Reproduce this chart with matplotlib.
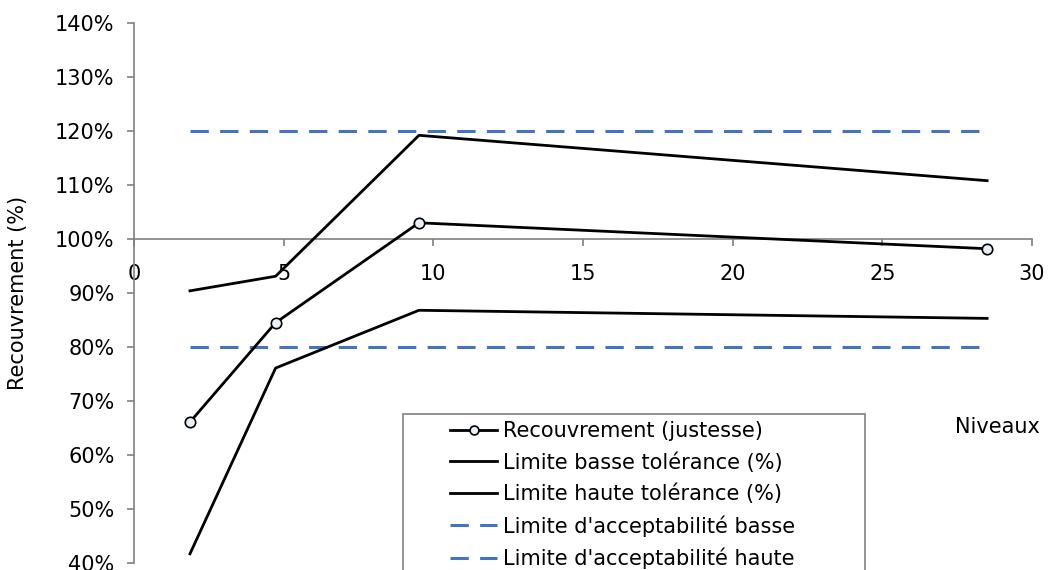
import matplotlib
matplotlib.use("Agg")
import matplotlib.pyplot as plt
from matplotlib.ticker import FuncFormatter, MultipleLocator
from matplotlib.patches import Rectangle

# Data
niveaux = [1.87, 4.73, 9.52, 28.5]
recouvrement = [0.661, 0.845, 1.030, 0.982]
limite_basse_tol = [0.417, 0.761, 0.868, 0.853]
limite_haute_tol = [0.904, 0.931, 1.192, 1.108]
accept_basse = [0.80, 0.80, 0.80, 0.80]
accept_haute = [1.20, 1.20, 1.20, 1.20]

labels = ["Recouvrement (justesse)",
          "Limite basse tolérance (%)",
          "Limite haute tolérance (%)",
          "Limite d'acceptabilité basse",
          "Limite d'acceptabilité haute"]

FS = 15
W, H = 1048, 570
plt.rcParams['font.family'] = ['DejaVu Sans']
fig = plt.figure(figsize=(W/100, H/100), dpi=100)
ax = fig.add_axes([134/W, 7/H, 898/W, 540/H])

blue = '#4472C4'
ax.plot(niveaux, recouvrement, color='black', lw=2.0, marker='o', ms=7.5,
        mfc='#E9EFF7', mec='black', mew=1.2, label=labels[0], zorder=5)
ax.plot(niveaux, limite_basse_tol, color='black', lw=2.0, label=labels[1], zorder=4)
ax.plot(niveaux, limite_haute_tol, color='black', lw=2.0, label=labels[2], zorder=4)
ax.plot(niveaux, accept_basse, color=blue, lw=2.2, dashes=(6, 3.7), label=labels[3], zorder=3)
ax.plot(niveaux, accept_haute, color=blue, lw=2.2, dashes=(6, 3.7), label=labels[4], zorder=3)

ax.set_xlim(0, 30)
ax.set_ylim(0.4, 1.4)
ax.xaxis.set_major_locator(MultipleLocator(5))
ax.yaxis.set_major_locator(MultipleLocator(0.1))
ax.yaxis.set_major_formatter(FuncFormatter(lambda v, p: f"{round(v*100):d}%"))

for s in ['top', 'right']:
    ax.spines[s].set_visible(False)
ax.spines['bottom'].set_position(('data', 1.0))
for s in ['left', 'bottom']:
    ax.spines[s].set_color('#808080')
    ax.spines[s].set_linewidth(1.2)
ax.tick_params(axis='both', direction='out', length=5, color='#808080', width=1.2,
               labelsize=FS, labelcolor='black')
ax.tick_params(axis='x', pad=13)
ax.tick_params(axis='y', pad=9)
ax.set_ylabel("Recouvrement (%)", fontsize=FS)
ax.yaxis.set_label_coords((28 - 134)/898, 0.5)

fig.text(955/W, 1 - 427/H, "Niveaux", fontsize=FS, va='center', ha='left')

# legend frame (cut off at the bottom like the reference)
ax.add_patch(Rectangle((403/W, -0.05), (865-403)/W, 1 - 414/H + 0.05,
                       transform=fig.transFigure, facecolor='white',
                       edgecolor='#808080', linewidth=1.2, zorder=10,
                       clip_on=False))
leg = ax.legend(loc='upper left', bbox_to_anchor=(450/W, 1 - 421/H),
                bbox_transform=fig.transFigure, fontsize=FS, frameon=False,
                handlelength=2.27, handletextpad=0.28, labelspacing=0.53,
                borderpad=0, borderaxespad=0, markerscale=0.85)
leg.set_zorder(11)

fig.savefig("out.png", dpi=100)
